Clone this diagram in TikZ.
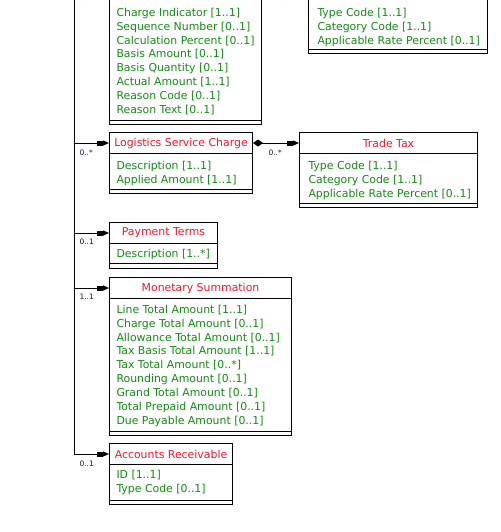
\documentclass[tikz,border=0pt]{standalone}
\usepackage{fontspec}
\setmainfont{DejaVu Sans}
\usetikzlibrary{arrows.meta}
\definecolor{ttlred}{HTML}{F0142D}
\definecolor{attgreen}{HTML}{138A13}
\definecolor{multc}{HTML}{10103A}

\begin{document}
\begin{tikzpicture}[x=1pt, y=-1pt, line width=1pt,
  head/.style={anchor=north west, minimum height=21pt, inner sep=0pt, text=ttlred, font=\fontsize{10.9}{14}\selectfont},
  attrs/.style={anchor=north west, align=left, inner sep=0pt, text=attgreen, font=\fontsize{10.9}{13.9}\selectfont},
  mult/.style={anchor=west, inner sep=0pt, text=multc, font=\fontsize{7.5}{8}\selectfont},
  assoc/.style={-{Rectangle[length=6pt,width=5pt]Triangle[length=6pt,width=5pt]}}]
  \useasboundingbox (0,0) rectangle (500,532);

  \draw (109,-30) rectangle (261,124);
  \draw (109,120) -- (261,120);
  \draw (308,-30) rectangle (487,54);
  \draw (308,50) -- (487,50);
  \draw (109,132) rectangle (252,193);
  \draw (109,153) -- (252,153);
  \draw (109,189) -- (252,189);
  \draw (299,132) rectangle (477,207);
  \draw (299,153) -- (477,153);
  \draw (299,203) -- (477,203);
  \draw (109,222) rectangle (217,268);
  \draw (109,243) -- (217,243);
  \draw (109,263) -- (217,263);
  \draw (109,277) rectangle (291,435);
  \draw (109,298) -- (291,298);
  \draw (109,431) -- (291,431);
  \draw (109,443) rectangle (232,504);
  \draw (109,464) -- (232,464);
  \draw (109,500) -- (232,500);

  \node[attrs] (chgattr) at (116,7.5) {Charge Indicator [1..1]\\Sequence Number [0..1]\\Calculation Percent [0..1]\\Basis Amount [0..1]\\Basis Quantity [0..1]\\Actual Amount [1..1]\\Reason Code [0..1]\\Reason Text [0..1]};
  \node[attrs] (taxattr) at (317,7.5) {Type Code [1..1]\\Category Code [1..1]\\Applicable Rate Percent [0..1]};

  \node[head, minimum width=143pt] (lsc) at (109,132) {Logistics Service Charge};
  \node[attrs] (lscattr) at (116,160.5) {Description [1..1]\\Applied Amount [1..1]};
  \node[head, minimum width=178pt] (tt) at (299,132) {Trade Tax};
  \node[attrs] (ttattr) at (308,160.5) {Type Code [1..1]\\Category Code [1..1]\\Applicable Rate Percent [0..1]};
  \node[head, minimum width=108pt] (pt) at (109,222) {Payment Terms};
  \node[attrs] (ptattr) at (116,248.5) {Description [1..*]};
  \node[head, minimum width=182pt] (ms) at (109,277) {Monetary Summation};
  \node[attrs] (msattr) at (116,304.5) {Line Total Amount [1..1]\\Charge Total Amount [0..1]\\Allowance Total Amount [0..1]\\Tax Basis Total Amount [1..1]\\Tax Total Amount [0..*]\\Rounding Amount [0..1]\\Grand Total Amount [0..1]\\Total Prepaid Amount [0..1]\\Due Payable Amount [0..1]};
  \node[head, minimum width=123pt] (ar) at (109,443) {Accounts Receivable};
  \node[attrs] (arattr) at (116,469.5) {ID [1..1]\\Type Code [0..1]};

  \coordinate (spine) at (74,-30);
  \draw[assoc] (spine) |- (ar.west);
  \draw[assoc] (spine |- lsc.west) -- (lsc.west);
  \draw[assoc] (spine |- pt.west) -- (pt.west);
  \draw[assoc] (spine |- ms.west) -- (ms.west);
  \draw[{Diamond[length=10pt,width=7pt]}-{Rectangle[length=6pt,width=5pt]Triangle[length=6pt,width=5pt]}] (lsc.east) -- (tt.west);

  \node[mult] (m0) at (79,-2) {0..};
  \node[mult] (m1) at (283,-2) {0..1};
  \node[mult] (m2) at (79,152.5) {0..*};
  \node[mult] (m3) at (268,153) {0..*};
  \node[mult] (m4) at (79,242) {0..1};
  \node[mult] (m5) at (79,297) {1..1};
  \node[mult] (m6) at (79,464) {0..1};
\end{tikzpicture}
\end{document}
